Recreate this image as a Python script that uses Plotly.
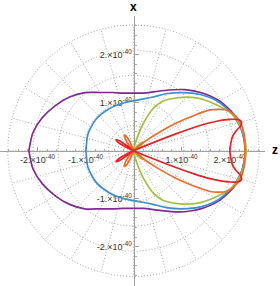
import numpy as np
import plotly.graph_objects as go

# Angles in degrees (upper half, 0 = +z axis); radii in units of 1e-40.
# Negative radii are drawn on the opposite side (polar plot of a signed function).
THETA_PURPLE = [0, 10, 20, 30, 40, 50, 60, 70, 80, 90, 100, 110, 120, 130, 140, 150, 160, 170, 180]
R_PURPLE = [2.33, 2.30, 2.22, 2.07, 1.87, 1.66, 1.46, 1.31, 1.22, 1.20, 1.22, 1.29, 1.40, 1.58, 1.74, 1.88, 2.02, 2.13, 2.18]

THETA_BLUE = [0, 10, 20, 30, 40, 50, 60, 70, 80, 90, 100, 120, 140, 160, 180]
R_BLUE = [2.33, 2.30, 2.20, 2.04, 1.82, 1.58, 1.37, 1.19, 1.09, 1.04, 1.02, 1.01, 1.02, 1.01, 0.99]

THETA_GREEN = [0, 10, 20, 30, 40, 50, 60, 65, 70, 75, 80, 90, 110, 125, 132, 138, 144, 150, 160, 180]
R_GREEN = [2.35, 2.31, 2.20, 1.95, 1.71, 1.44, 1.18, 0.97, 0.62, 0.25, 0.08, 0.02, 0.0, -0.05, -0.20, -0.27, -0.20, -0.05, 0.0, 0.0]

THETA_ORANGE = [0, 8, 15, 20, 24, 28, 30, 33, 36, 39, 43, 50, 55, 60, 65, 70, 75, 180]
R_ORANGE = [2.32, 2.33, 2.30, 2.22, 2.10, 1.81, 1.50, 1.05, 0.60, 0.30, 0.0, -0.12, -0.30, -0.38, -0.30, -0.10, 0.0, 0.0]

THETA_RED = [0, 4, 8, 11, 13, 15, 16.5, 18, 19.5, 20.3, 21.0, 21.7, 22.3, 22.8, 26, 29, 32, 35, 37, 39, 180]
R_RED = [2.01, 2.03, 2.08, 2.18, 2.29, 2.33, 2.28, 2.11, 1.84, 1.65, 1.35, 0.95, 0.50, 0.0, -0.20, -0.38, -0.43, -0.36, -0.18, 0.0, 0.0]

TICK_VALUES = [-2, -1, 1, 2]
TICK_LABELS = ["-2.×10<sup>-40</sup>", "-1.×10<sup>-40</sup>", "1.×10<sup>-40</sup>", "2.×10<sup>-40</sup>"]

SERIES = [
    ("purple", THETA_PURPLE, R_PURPLE, "#7F2A92"),
    ("blue", THETA_BLUE, R_BLUE, "#3E8FCC"),
    ("green", THETA_GREEN, R_GREEN, "#A3BF3E"),
    ("orange", THETA_ORANGE, R_ORANGE, "#EE6B2C"),
    ("red", THETA_RED, R_RED, "#E2242A"),
]

W, H = 280, 286
CX, CY = 133.5, 150.7          # centre in pixels (from top-left)
PX = 48.0                      # pixels per 1e-40
RMAX = 2.62                    # outer grid radius
N_RINGS = 5
SPOKE_STEP = 15


def full_path(theta, r):
    th = np.array(list(theta) + [-t for t in theta[::-1]], dtype=float)
    rr = np.array(list(r) + list(r[::-1]), dtype=float)
    t = np.radians(th)
    return rr * np.cos(t), rr * np.sin(t)


fig = go.Figure()

grid_col = "#a8a8a8"
grid_dash = "1px,2px"
ang = np.radians(np.linspace(0, 360, 361))
for k in range(1, N_RINGS + 1):
    rk = RMAX * k / N_RINGS
    fig.add_trace(go.Scatter(x=rk * np.cos(ang), y=rk * np.sin(ang), mode="lines",
                             line=dict(color=grid_col, width=1, dash=grid_dash),
                             hoverinfo="skip", showlegend=False))
for a in range(0, 360, SPOKE_STEP):
    t = np.radians(a)
    fig.add_trace(go.Scatter(x=[0, RMAX * np.cos(t)], y=[0, RMAX * np.sin(t)], mode="lines",
                             line=dict(color=grid_col, width=1, dash=grid_dash),
                             hoverinfo="skip", showlegend=False))

for name, th, r, col in SERIES:
    x, y = full_path(th, r)
    fig.add_trace(go.Scatter(x=x, y=y, mode="lines", name=name,
                             line=dict(color=col, width=1.7, shape="spline", smoothing=0.7),
                             hoverinfo="skip", showlegend=False))

cy_b = H - CY
xmin = -CX / PX
xmax = xmin + 265 / PX
ymin = -cy_b / PX
ymax = ymin + (H - 16) / PX

axis_font = dict(family="Liberation Sans, Arial, sans-serif", size=9, color="#333333")
minor_vals = [round(v, 2) for v in np.arange(-2.6, 2.61, 0.2) if abs(v) > 1e-6]
axis_common = dict(showline=True, linecolor="#a0a0a0", linewidth=1, showgrid=False, zeroline=False,
                   tickvals=TICK_VALUES, ticktext=TICK_LABELS, ticks="inside", ticklen=4,
                   tickcolor="#a0a0a0", tickfont=axis_font, layer="below traces",
                   minor=dict(tickvals=minor_vals, ticks="inside", ticklen=2, tickcolor="#b0b0b0"))

fig.update_layout(
    width=W, height=H,
    margin=dict(l=0, r=0, t=0, b=0),
    paper_bgcolor="white", plot_bgcolor="rgba(0,0,0,0)",
    showlegend=False,
    xaxis=dict(domain=[0, 265 / W], range=[xmin, xmax], anchor="free", position=cy_b / H, **axis_common),
    yaxis=dict(domain=[0, (H - 16) / H], range=[ymin, ymax], anchor="free", position=CX / W, **axis_common),
    annotations=[
        dict(text="<b>x</b>", xref="paper", yref="paper", x=CX / W, y=(H - 7) / H,
             xanchor="center", yanchor="middle", showarrow=False,
             font=dict(family="Liberation Sans, Arial", size=12, color="black")),
        dict(text="<b>z</b>", xref="paper", yref="paper", x=275 / W, y=(cy_b + 1) / H,
             xanchor="center", yanchor="middle", showarrow=False,
             font=dict(family="Liberation Sans, Arial", size=12, color="black")),
    ],
)

fig.write_html("out.html", config={"displayModeBar": False, "staticPlot": True},
               post_script="document.body.style.margin='0';document.body.style.overflow='hidden';")
